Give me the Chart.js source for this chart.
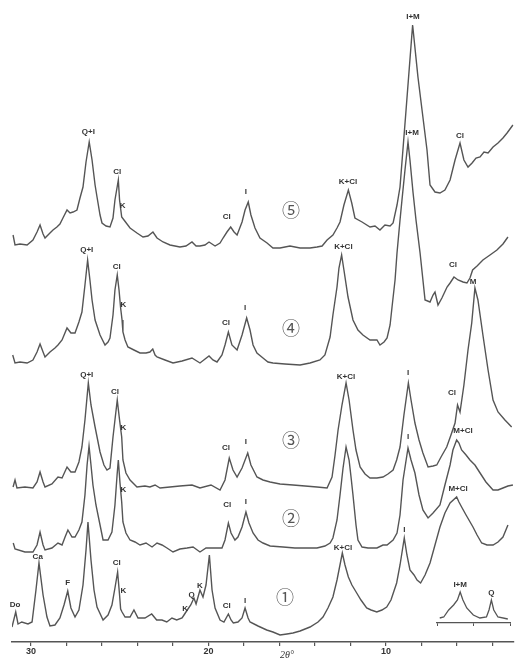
<!DOCTYPE html>
<html>
<head>
<meta charset="utf-8">
<script src="https://cdn.jsdelivr.net/npm/chart.js@4.4.0/dist/chart.umd.min.js"></script>
<style>
html,body{margin:0;padding:0;background:#fff;}
#wrap{position:relative;width:527px;height:660px;overflow:hidden;}
#main{position:absolute;left:0;top:0;}
#inset{position:absolute;left:436px;top:578px;}
</style>
</head>
<body>
<div id="wrap">
<canvas id="main" width="527" height="660"></canvas>
<canvas id="inset" width="75" height="60"></canvas>
</div>
<script>
// 2theta (deg) , stacked intensity (plot units above the axis)
const trace1 = [[31.07,15],[30.86,30],[30.73,18],[30.52,20],[30.17,18],[29.94,20],[29.72,52],[29.55,79],[29.32,47],[29.10,25],[28.93,16],[28.65,17],[28.37,24],[28.14,37],[27.93,51],[27.75,34],[27.52,25],[27.30,32],[27.07,57],[26.90,92],[26.79,120],[26.62,82],[26.45,52],[26.28,35],[25.94,22],[25.66,27],[25.44,37],[25.27,54],[25.12,70],[25.01,47],[24.95,33],[24.87,30],[24.70,25],[24.42,25],[24.20,32],[23.97,24],[23.58,24],[23.20,28],[22.92,22],[22.62,22],[22.35,20],[22.06,24],[21.79,22],[21.49,24],[21.38,27],[21.27,30],[21.00,37],[20.82,44],[20.70,38],[20.59,45],[20.48,52],[20.31,45],[20.14,57],[19.95,87],[19.80,52],[19.63,34],[19.35,22],[19.13,20],[18.88,28],[18.73,22],[18.60,19],[18.34,20],[18.11,24],[17.94,34],[17.77,24],[17.66,20],[17.21,16],[16.72,12],[16.37,10],[15.97,7],[15.58,8],[15.24,9],[14.84,11],[14.28,15],[13.83,20],[13.55,25],[13.27,34],[12.99,45],[12.76,62],[12.46,89],[12.31,77],[12.12,65],[11.92,57],[11.65,49],[11.41,42],[11.09,34],[10.84,32],[10.52,30],[10.23,32],[9.96,35],[9.72,42],[9.40,59],[9.21,77],[8.97,104],[8.82,87],[8.65,72],[8.42,67],[8.25,62],[8.05,59],[7.80,67],[7.52,79],[7.24,97],[6.96,115],[6.68,129],[6.39,139],[6.02,145],[5.89,140],[5.74,135],[5.49,127],[5.10,115],[4.87,107],[4.61,99],[4.31,97],[3.97,97],[3.69,100],[3.41,105],[3.13,117]];

const trace2 = [[31.00,99],[30.90,93],[30.34,90],[29.89,90],[29.66,97],[29.49,110],[29.32,97],[29.21,92],[28.82,94],[28.48,99],[28.25,97],[28.08,105],[27.92,112],[27.69,105],[27.52,105],[27.30,112],[27.13,120],[26.96,147],[26.84,177],[26.73,196],[26.62,177],[26.51,157],[26.34,137],[26.11,117],[25.94,102],[25.66,102],[25.44,110],[25.27,137],[25.15,167],[25.08,182],[24.99,160],[24.89,140],[24.82,120],[24.65,109],[24.42,102],[24.14,100],[23.86,97],[23.52,99],[23.18,95],[22.90,99],[22.62,97],[22.34,94],[22.00,90],[21.61,93],[21.21,94],[20.87,95],[20.48,90],[20.14,94],[19.75,94],[19.24,94],[19.07,102],[18.88,119],[18.73,109],[18.51,102],[18.34,105],[18.11,115],[17.89,130],[17.72,119],[17.49,109],[17.21,102],[16.93,99],[16.53,96],[15.80,95],[15.13,94],[14.56,94],[13.89,94],[13.44,96],[13.15,99],[12.99,104],[12.76,122],[12.59,147],[12.42,174],[12.25,195],[12.08,182],[11.97,165],[11.86,147],[11.69,117],[11.58,102],[11.35,95],[11.01,94],[10.51,94],[10.17,97],[9.94,97],[9.60,102],[9.38,109],[9.21,127],[9.04,162],[8.76,194],[8.59,182],[8.37,169],[8.14,147],[7.92,132],[7.63,124],[7.35,129],[6.96,137],[6.68,157],[6.39,177],[6.23,192],[6.02,202],[5.89,199],[5.74,192],[5.49,187],[5.27,182],[4.99,177],[4.70,169],[4.37,160],[3.97,152],[3.69,152],[3.41,154],[3.13,156],[2.85,157]];

const trace3 = [[31.01,155],[30.90,162],[30.79,154],[30.34,155],[29.89,154],[29.66,160],[29.49,170],[29.32,160],[29.21,155],[28.82,158],[28.48,165],[28.25,164],[27.97,175],[27.75,170],[27.52,170],[27.30,180],[27.13,195],[26.96,222],[26.77,259],[26.62,237],[26.39,215],[26.11,190],[25.89,177],[25.72,172],[25.55,174],[25.38,205],[25.27,222],[25.14,242],[25.01,222],[24.89,205],[24.82,182],[24.65,169],[24.42,162],[24.03,155],[23.58,156],[23.30,155],[23.01,157],[22.73,154],[22.17,155],[21.61,156],[20.93,157],[20.48,154],[19.86,157],[19.35,152],[19.07,162],[18.83,184],[18.62,172],[18.39,165],[18.11,174],[17.79,189],[17.61,177],[17.27,165],[16.93,162],[16.53,160],[15.97,158],[15.24,157],[14.56,156],[13.89,155],[13.32,154],[13.04,165],[12.87,187],[12.70,212],[12.48,237],[12.25,259],[12.08,242],[11.86,212],[11.69,192],[11.46,175],[11.18,168],[10.90,164],[10.51,164],[10.17,165],[9.89,168],[9.60,172],[9.40,182],[9.21,195],[8.99,227],[8.74,259],[8.59,242],[8.37,219],[8.14,202],[7.92,189],[7.63,175],[7.35,176],[7.14,177],[6.90,185],[6.58,195],[6.34,207],[6.11,219],[5.97,237],[5.83,230],[5.61,257],[5.38,292],[5.17,319],[4.99,354],[4.82,342],[4.54,307],[4.25,272],[3.97,242],[3.69,230],[3.30,222],[2.92,215]];

const trace4 = [[31.03,287],[30.90,279],[30.62,280],[30.22,279],[29.89,282],[29.66,290],[29.49,298],[29.32,290],[29.21,285],[28.93,290],[28.65,294],[28.48,297],[28.25,302],[27.97,314],[27.75,309],[27.52,309],[27.30,320],[27.13,330],[26.96,357],[26.81,382],[26.68,362],[26.56,342],[26.39,322],[26.11,307],[25.83,297],[25.66,300],[25.55,304],[25.38,327],[25.27,352],[25.14,367],[25.04,352],[24.95,334],[24.87,322],[24.82,310],[24.70,302],[24.54,295],[24.20,292],[23.86,289],[23.52,289],[23.30,290],[23.14,293],[23.01,287],[22.90,285],[22.45,282],[22.00,279],[21.49,281],[20.93,284],[20.48,279],[19.97,286],[19.75,282],[19.52,280],[19.24,287],[19.07,297],[18.88,310],[18.68,297],[18.39,292],[18.11,307],[17.85,324],[17.66,312],[17.49,297],[17.27,289],[16.93,284],[16.65,280],[16.37,279],[15.69,278],[14.84,277],[14.28,279],[13.72,282],[13.44,287],[13.15,305],[12.99,327],[12.76,355],[12.65,374],[12.50,387],[12.37,372],[12.14,345],[11.86,322],[11.58,312],[11.30,307],[10.90,302],[10.51,302],[10.34,297],[10.11,300],[9.94,304],[9.77,317],[9.66,335],[9.49,362],[9.38,389],[9.21,422],[9.10,442],[8.93,472],[8.76,500],[8.65,482],[8.48,450],[8.31,422],[8.08,389],[7.80,342],[7.52,340],[7.35,347],[7.24,350],[7.07,337],[6.85,344],[6.56,355],[6.39,359],[6.17,365],[5.94,362],[5.66,360],[5.44,359],[5.27,364],[5.12,372],[4.87,376],[4.54,382],[4.14,387],[3.75,392],[3.41,398],[3.13,405]];

const trace5 = [[31.01,407],[30.90,397],[30.62,398],[30.22,397],[29.89,402],[29.66,410],[29.49,417],[29.32,408],[29.21,404],[28.93,409],[28.76,412],[28.54,415],[28.37,418],[28.20,424],[27.97,432],[27.80,429],[27.63,430],[27.41,432],[27.24,444],[27.07,455],[26.90,480],[26.72,500],[26.56,482],[26.39,457],[26.28,445],[26.11,427],[26.00,419],[25.77,416],[25.55,415],[25.38,424],[25.27,442],[25.08,462],[25.01,442],[24.89,425],[24.76,422],[24.42,414],[24.03,409],[23.69,405],[23.41,406],[23.13,410],[22.90,404],[22.56,400],[22.17,397],[21.61,395],[21.27,396],[20.93,400],[20.70,396],[20.48,396],[20.20,397],[19.97,400],[19.63,396],[19.35,399],[19.18,404],[18.96,410],[18.75,415],[18.56,410],[18.39,407],[18.11,420],[17.94,432],[17.76,440],[17.61,427],[17.38,414],[17.10,404],[16.70,399],[16.37,394],[15.97,394],[15.41,396],[14.84,394],[14.28,394],[13.89,395],[13.60,396],[13.32,402],[12.99,407],[12.76,414],[12.59,420],[12.37,437],[12.12,452],[11.93,439],[11.75,424],[11.35,420],[10.90,415],[10.62,416],[10.34,412],[10.06,417],[9.77,416],[9.60,419],[9.38,437],[9.21,455],[8.87,532],[8.50,617],[8.20,565],[7.97,532],[7.69,492],[7.52,457],[7.24,450],[6.96,449],[6.68,452],[6.39,462],[6.11,482],[5.83,499],[5.61,482],[5.38,475],[5.15,479],[4.93,484],[4.70,485],[4.48,490],[4.25,489],[3.97,495],[3.69,499],[3.41,504],[3.18,509],[2.85,517]];

// inset: 2theta around 60 deg
const insetTrace = [[62.85,5],[62.63,6],[62.36,13],[62.09,18],[61.88,23],[61.73,31],[61.58,23],[61.37,15],[61.01,8],[60.65,5],[60.29,6],[60.15,13],[60.02,23],[59.89,13],[59.66,6],[59.12,4]];

const xTickLabels = [30, 20, 10];
const insetTickLabels = [60];

const peakLabels = [
  ['Q+I',26.77,510],['Cl',25.14,470],['K',24.83,436],['Cl',18.97,425],['I',17.89,450],['K+Cl',12.14,460],['I+M',8.48,625],['Cl',5.83,506],
  ['Q+I',26.86,392],['Cl',25.17,375],['K',24.80,337],['Cl',19.01,319],['I',17.94,334],['K+Cl',12.40,395],['I+M',8.53,509],['Cl',6.23,377],
  ['Q+I',26.86,267],['Cl',25.27,250],['K',24.80,214],['Cl',19.01,194],['I',17.89,200],['K+Cl',12.25,265],['I',8.76,269],['Cl',6.28,249],['M',5.10,360],
  ['K',24.80,152],['Cl',18.94,137],['I',17.89,140],['I',8.76,205],['M+Cl',5.66,211],
  ['Do',30.90,37],['Ca',29.62,85],['F',27.93,59],['Cl',25.17,79],['K',24.80,51],['K',21.32,33],['Q',20.95,47],['K',20.48,56],['Cl',18.97,36],['I',17.94,41],['K+Cl',12.42,94],['I',8.97,112],['M+Cl',5.94,153]
];
const sampleLabels = [['⑤',15.35,432],['④',15.35,314],['③',15.35,202],['②',15.35,124],['①',15.69,45]];
const insetLabels = [['I+M',61.73,38],['Q',60.02,30]];

const ink = '#555';

function textPlugin(list, font, extra) {
  return {
    id: 'texts',
    afterDatasetsDraw(chart) {
      const ctx = chart.ctx, xs = chart.scales.x, ys = chart.scales.y;
      ctx.save();
      ctx.fillStyle = '#333';
      ctx.textAlign = 'center';
      ctx.textBaseline = 'middle';
      ctx.font = font;
      list.forEach(([t, x, y]) => ctx.fillText(t, xs.getPixelForValue(x), ys.getPixelForValue(y)));
      if (extra) extra(chart);
      ctx.restore();
    }
  };
}

function toPts(arr) { return arr.map(([x, y]) => ({x, y})); }

const traces = [trace1, trace2, trace3, trace4, trace5];

new Chart(document.getElementById('main'), {
  type: 'line',
  data: {
    datasets: traces.map(t => ({data: toPts(t), borderColor: ink, borderWidth: 1.4, pointRadius: 0, fill: false}))
  },
  options: {
    responsive: false,
    animation: false,
    layout: {padding: {left: 12, right: 13.2, top: 0, bottom: 0}},
    plugins: {legend: {display: false}, tooltip: {enabled: false}},
    scales: {
      x: {
        type: 'linear', reverse: true, min: 2.8, max: 31.07,
        afterFit: s => { s.height = 18; },
        border: {color: ink, width: 1.4},
        grid: {drawOnChartArea: false, color: ink, tickLength: 4, lineWidth: 1.2},
        ticks: {
          stepSize: 2, includeBounds: false, autoSkip: false, maxRotation: 0, padding: 0,
          color: '#333', font: {size: 9, family: 'Liberation Sans', weight: 'bold'},
          callback: v => xTickLabels.includes(v) ? String(v) : ''
        }
      },
      y: {display: false, min: 0, max: 642}
    }
  },
  plugins: [
    textPlugin(peakLabels, 'bold 8px "Liberation Sans"', chart => {
      const ctx = chart.ctx, xs = chart.scales.x, ys = chart.scales.y;
      ctx.font = '18px "Noto Sans CJK JP"';
      ctx.fillStyle = '#555';
      sampleLabels.forEach(([t, x, y]) => ctx.fillText(t, xs.getPixelForValue(x), ys.getPixelForValue(y)));
      ctx.font = 'italic 10px "Liberation Serif"';
      ctx.fillStyle = '#333';
      ctx.fillText('2θ°', xs.getPixelForValue(15.58), xs.bottom - 5);
    })
  ]
});

new Chart(document.getElementById('inset'), {
  type: 'line',
  data: {datasets: [{data: toPts(insetTrace), borderColor: ink, borderWidth: 1.3, pointRadius: 0, fill: false}]},
  options: {
    responsive: false,
    animation: false,
    layout: {padding: {left: 0.5, right: 0.5, top: 0, bottom: 0}},
    plugins: {legend: {display: false}, tooltip: {enabled: false}},
    scales: {
      x: {
        type: 'linear', reverse: true, min: 59, max: 63,
        afterFit: s => { s.height = 15; },
        border: {color: ink, width: 1.3},
        grid: {drawOnChartArea: false, color: ink, tickLength: 3},
        ticks: {
          stepSize: 2, includeBounds: false, autoSkip: false, maxRotation: 0, padding: 1,
          color: '#333', font: {size: 8, family: 'Liberation Sans', weight: 'bold'},
          callback: v => insetTickLabels.includes(v) ? String(v) : ''
        }
      },
      y: {display: false, min: 0, max: 45}
    }
  },
  plugins: [textPlugin(insetLabels, 'bold 8px "Liberation Sans"')]
});
</script>
</body>
</html>
